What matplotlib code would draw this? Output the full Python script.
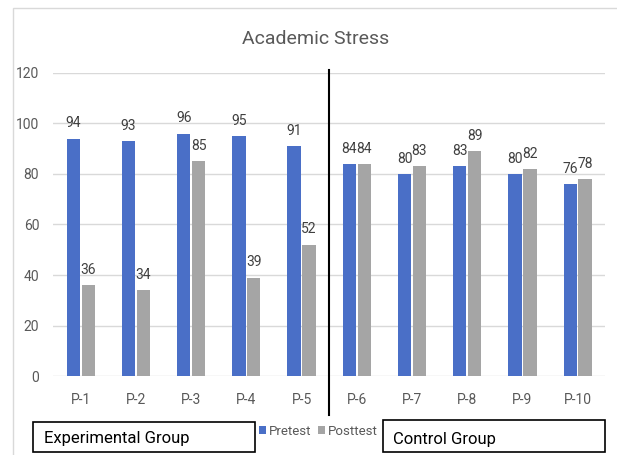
import matplotlib.pyplot as plt
import numpy as np
from matplotlib.patches import Rectangle

# values
PARTICIPANTS = ['P-1', 'P-2', 'P-3', 'P-4', 'P-5', 'P-6', 'P-7', 'P-8', 'P-9', 'P-10']
PRETEST = [94, 93, 96, 95, 91, 84, 80, 83, 80, 76]
POSTTEST = [36, 34, 85, 39, 52, 84, 83, 89, 82, 78]
Y_TICKS = [0, 20, 40, 60, 80, 100, 120]

BLUE = '#4A6FC7'
GREY = '#A5A5A5'
TXT = '#595959'

plt.rcParams['font.family'] = ['Roboto', 'DejaVu Sans']

fig = plt.figure(figsize=(6.17, 4.55), dpi=100)
ax = fig.add_axes([0.086, 0.1736, 0.895, 0.666])

x = np.arange(len(PARTICIPANTS))
w = 0.24
b1 = ax.bar(x - w / 2 - 0.015, PRETEST, w, color=BLUE, label='Pretest', zorder=3)
b2 = ax.bar(x + w / 2 + 0.015, POSTTEST, w, color=GREY, label='Posttest', zorder=3)
ax.bar_label(b1, padding=6, fontsize=10, color='#404040')
ax.bar_label(b2, padding=6, fontsize=10, color='#404040')

ax.set_xlim(-0.5, len(PARTICIPANTS) - 0.5)
ax.set_ylim(0, 120)
ax.set_yticks(Y_TICKS)
ax.set_xticks(x)
ax.set_xticklabels(PARTICIPANTS)
ax.tick_params(axis='both', length=0, labelsize=10, labelcolor=TXT)
ax.tick_params(axis='x', pad=12)
ax.tick_params(axis='y', pad=10)
ax.grid(axis='y', color='#D9D9D9', linewidth=1, zorder=0)
for s in ax.spines.values():
    s.set_visible(False)

# divider between the two groups
ax.plot([4.5, 4.5], [121.2, -15.4], color='black', linewidth=1.5,
        clip_on=False, zorder=5)

fig.text(0.512, 0.915, 'Academic Stress', ha='center', va='center',
         fontsize=14, color=TXT)

# outer chart border
fig.add_artist(Rectangle((0.021, -0.01), 1.0, 0.993, transform=fig.transFigure,
                         fill=False, edgecolor='#D9D9D9', linewidth=1))

# group boxes
fig.add_artist(Rectangle((0.0535, 0.0066), 0.36, 0.066, transform=fig.transFigure,
                         fill=False, edgecolor='black', linewidth=1.2))
fig.add_artist(Rectangle((0.621, 0.0066), 0.36, 0.070, transform=fig.transFigure,
                         fill=False, edgecolor='black', linewidth=1.2))
fig.text(0.072, 0.037, 'Experimental Group', ha='left', va='center',
         fontsize=12, color='black')
fig.text(0.637, 0.033, 'Control Group', ha='left', va='center',
         fontsize=12, color='black')

fig.legend(handles=[b1, b2], loc='center', bbox_to_anchor=(0.516, 0.052),
           ncol=2, frameon=False, fontsize=9.5, handlelength=0.55,
           handleheight=0.55, handletextpad=0.25, columnspacing=0.45,
           borderpad=0.1, labelcolor=TXT)

fig.savefig('out.png', dpi=100)
